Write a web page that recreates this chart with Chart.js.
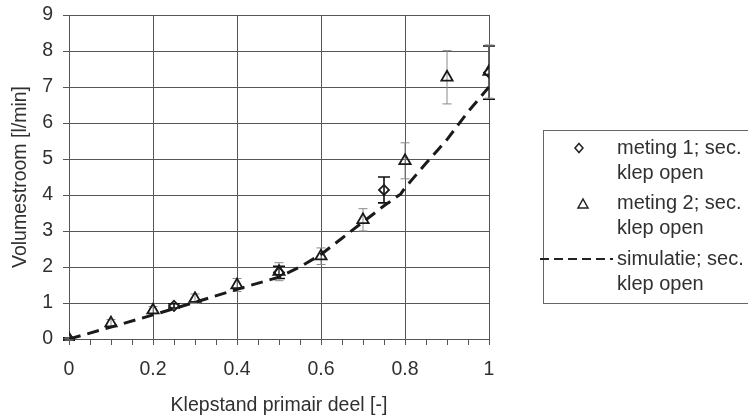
<!DOCTYPE html>
<html><head><meta charset="utf-8">
<script src="https://cdn.jsdelivr.net/npm/chart.js@4.4.1/dist/chart.umd.min.js"></script>
<style>html,body{margin:0;padding:0;background:#fff;}#wrap{width:748px;height:418px;position:relative;}</style>
</head><body><div id="wrap"><canvas id="c" width="748" height="418"></canvas></div>
<script>
// ---- data ----
const xTickValues = [0, 0.2, 0.4, 0.6, 0.8, 1];
const xTickLabels = ['0', '0.2', '0.4', '0.6', '0.8', '1'];
const yTickValues = [0, 1, 2, 3, 4, 5, 6, 7, 8, 9];
const yTickLabels = ['0', '1', '2', '3', '4', '5', '6', '7', '8', '9'];

const meting1X = [0, 0.25, 0.5, 0.75, 1];
const meting1Y = [0, 0.92, 1.85, 4.14, 7.40];
const meting1Err = [0.03, 0.06, 0.17, 0.36, 0.74];

const meting2X = [0, 0.1, 0.2, 0.3, 0.4, 0.5, 0.6, 0.7, 0.8, 0.9, 1];
const meting2Y = [0, 0.44, 0.80, 1.12, 1.50, 1.87, 2.30, 3.31, 4.95, 7.27, 7.43];
const meting2Err = [0.03, 0.10, 0.10, 0.13, 0.18, 0.25, 0.23, 0.31, 0.50, 0.74, 0.74];

const simX = [0, 0.1, 0.2, 0.3, 0.4, 0.5, 0.55, 0.6, 0.65, 0.7, 0.75, 0.79, 0.8, 0.85, 0.9, 0.95, 1];
const simY = [0, 0.33, 0.67, 1.02, 1.38, 1.72, 2.0, 2.35, 2.8, 3.25, 3.7, 4.03, 4.2, 4.88, 5.54, 6.31, 7.0];

const seriesNames = [['meting 1; sec.', 'klep open'], ['meting 2; sec.', 'klep open'], ['simulatie; sec.', 'klep open']];
const xTitle = 'Klepstand primair deel [-]';
const yTitle = 'Volumestroom [l/min]';

// ---- style ----
const FONT = '"Liberation Sans", Arial, Helvetica, sans-serif';
const TXT = '#303030';
const GRID = '#555';
const toPts = (xs, ys) => xs.map((x, i) => ({x: x, y: ys[i]}));

const errorBars = {
  id: 'errorBars',
  beforeDatasetsDraw(chart) {
    const {ctx, scales: {x, y}} = chart;
    chart.data.datasets.forEach(ds => {
      if (!ds.errors) return;
      ctx.save();
      ctx.strokeStyle = ds.errColor;
      ctx.lineWidth = ds.errWidth;
      ds.data.forEach((p, i) => {
        const e = ds.errors[i];
        const px = x.getPixelForValue(p.x);
        const y1 = y.getPixelForValue(p.y + e), y2 = y.getPixelForValue(p.y - e);
        const hw = ds.capWidth / 2;
        ctx.beginPath();
        ctx.moveTo(px, y1); ctx.lineTo(px, y2);
        ctx.moveTo(px - hw, y1); ctx.lineTo(px + hw, y1);
        ctx.moveTo(px - hw, y2); ctx.lineTo(px + hw, y2);
        ctx.stroke();
      });
      ctx.restore();
    });
  }
};

const minorTicks = {
  id: 'minorTicks',
  afterDraw(chart) {
    const {ctx, scales: {x}, chartArea} = chart;
    ctx.save();
    ctx.strokeStyle = GRID;
    ctx.lineWidth = 1;
    for (let i = 1; i < 20; i++) {
      if (i % 4 === 0) continue;
      const px = Math.round(x.getPixelForValue(i * 0.05)) + 0.5;
      ctx.beginPath();
      ctx.moveTo(px, chartArea.bottom);
      ctx.lineTo(px, chartArea.bottom + 6);
      ctx.stroke();
    }
    ctx.restore();
  }
};

const boxLegend = {
  id: 'boxLegend',
  afterDraw(chart) {
    const {ctx, chartArea} = chart;
    const L = chartArea.right + 54, T = 130, B = 303;
    ctx.save();
    ctx.strokeStyle = '#666';
    ctx.lineWidth = 1;
    ctx.strokeRect(L + 0.5, T + 0.5, 300, B - T);
    ctx.font = '20px ' + FONT;
    ctx.fillStyle = TXT;
    ctx.textBaseline = 'middle';
    ctx.textAlign = 'left';
    const tx = L + 74;
    const rows = [148, 203, 259];
    seriesNames.forEach((lines, i) => {
      ctx.fillText(lines[0], tx, rows[i]);
      ctx.fillText(lines[1], tx, rows[i] + 25);
    });
    ctx.strokeStyle = '#222';
    ctx.lineWidth = 1.5;
    // diamond
    let cx = L + 36, cy = rows[0];
    ctx.beginPath();
    ctx.moveTo(cx, cy - 4.5); ctx.lineTo(cx + 4, cy); ctx.lineTo(cx, cy + 4.5); ctx.lineTo(cx - 4, cy); ctx.closePath();
    ctx.stroke();
    // triangle
    cx = L + 40; cy = rows[1] + 1;
    ctx.beginPath();
    ctx.moveTo(cx, cy - 5); ctx.lineTo(cx + 5, cy + 4); ctx.lineTo(cx - 5, cy + 4); ctx.closePath();
    ctx.stroke();
    // dashed line
    ctx.lineWidth = 2;
    ctx.setLineDash([9, 5]);
    ctx.beginPath();
    ctx.moveTo(L - 3, rows[2]); ctx.lineTo(L + 70, rows[2]);
    ctx.stroke();
    ctx.restore();
  }
};

new Chart(document.getElementById('c'), {
  type: 'scatter',
  data: {
    datasets: [
      {
        label: seriesNames[0].join(' '),
        data: toPts(meting1X, meting1Y),
        errors: meting1Err, errColor: '#111', errWidth: 1.6, capWidth: 12,
        pointStyle: 'rectRot', pointRadius: 5, pointHoverRadius: 5,
        borderColor: '#1a1a1a', backgroundColor: 'rgba(255,255,255,0)', pointBorderWidth: 1.8
      },
      {
        label: seriesNames[1].join(' '),
        data: toPts(meting2X, meting2Y),
        errors: meting2Err, errColor: '#8a8a8a', errWidth: 1, capWidth: 9,
        pointStyle: 'triangle', pointRadius: 6.5, pointHoverRadius: 6.5,
        borderColor: '#1a1a1a', backgroundColor: 'rgba(255,255,255,0)', pointBorderWidth: 1.8
      },
      {
        label: seriesNames[2].join(' '),
        data: toPts(simX, simY),
        showLine: true, pointRadius: 0, pointHoverRadius: 0,
        borderColor: '#1a1a1a', borderWidth: 3, borderDash: [12, 7], tension: 0
      }
    ]
  },
  options: {
    responsive: false,
    animation: false,
    devicePixelRatio: 1,
    layout: {padding: {left: 0, top: 15, right: 259, bottom: 0}},
    plugins: {legend: {display: false}, tooltip: {enabled: false}},
    scales: {
      x: {
        type: 'linear', min: 0, max: 1,
        afterBuildTicks: s => { s.ticks = xTickValues.map(v => ({value: v})); },
        afterFit: s => { s.height = 79; },
        ticks: {callback: (v, i) => xTickLabels[i], font: {family: FONT, size: 19.5}, color: TXT, padding: 13, maxRotation: 0},
        grid: {color: GRID, lineWidth: 1, tickLength: 6},
        border: {color: GRID, width: 1},
        title: {display: true, text: xTitle, font: {family: FONT, size: 19.5}, color: TXT, padding: {top: 0, bottom: 1}}
      },
      y: {
        type: 'linear', min: 0, max: 9,
        afterBuildTicks: s => { s.ticks = yTickValues.map(v => ({value: v})); },
        afterFit: s => { s.width = 69; s.paddingTop = 0; s.paddingBottom = 0; },
        ticks: {callback: (v, i) => yTickLabels[i], font: {family: FONT, size: 19.5}, color: TXT, padding: 10},
        grid: {color: GRID, lineWidth: 1, tickLength: 6},
        border: {color: GRID, width: 1},
        title: {display: true, text: yTitle, font: {family: FONT, size: 19.5}, color: TXT, padding: {top: 9, bottom: 0}}
      }
    }
  },
  plugins: [errorBars, minorTicks, boxLegend]
});
</script></body></html>
